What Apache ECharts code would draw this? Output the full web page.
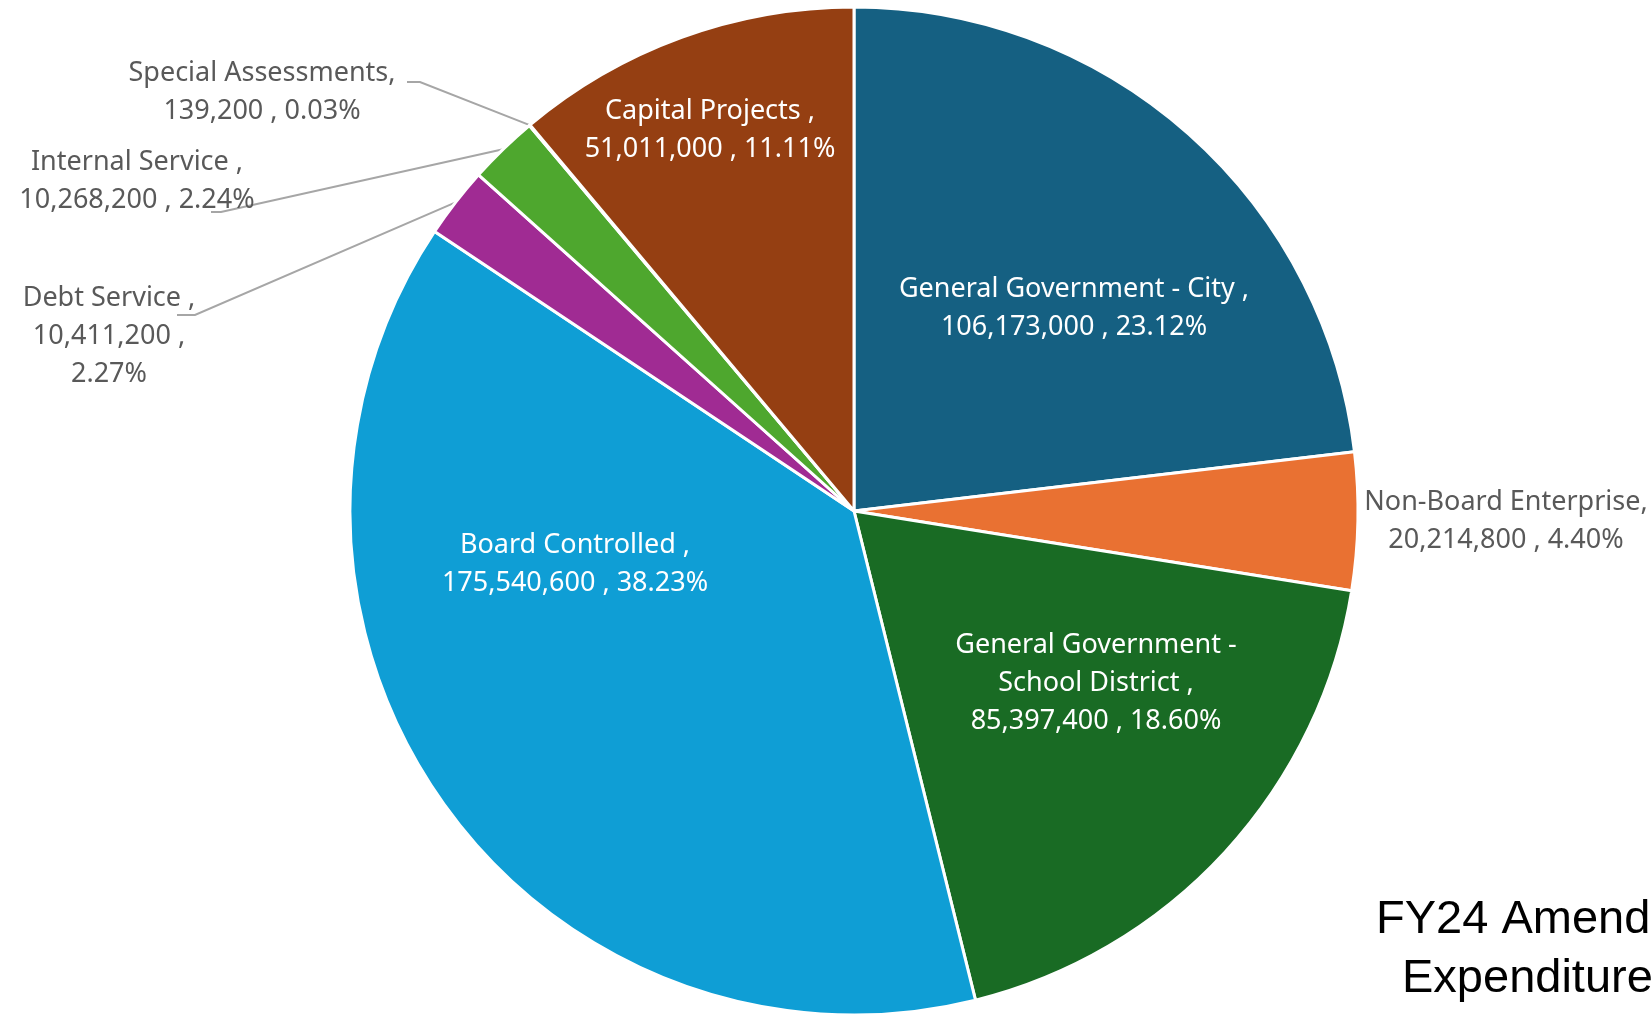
<!DOCTYPE html>
<html><head><meta charset="utf-8">
<script src="https://cdn.jsdelivr.net/npm/echarts@6/dist/echarts.min.js"></script>
<style>html,body{margin:0;padding:0;background:#fff;overflow:hidden}#c{width:1652px;height:1015px}</style>
</head><body><div id="c"></div>
<script>
// ---- data ----
const categories = ['General Government - City','Non-Board Enterprise','General Government - School District','Board Controlled','Debt Service','Internal Service','Special Assessments','Capital Projects'];
const values = [106173000,20214800,85397400,175540600,10411200,10268200,139200,51011000];
// label name lines as printed (with wrapping) and separator before percentage
const labelNames = ['General Government - City ,','Non-Board Enterprise,','General Government -\nSchool District ,','Board Controlled ,','Debt Service ,','Internal Service ,','Special Assessments,','Capital Projects ,'];
const pctSeps = [' , ',' , ',' , ',' , ',' ,\n',' , ',' , ',' , '];
const titleLines = ['FY24 Amended','Expenditures'];

// ---- style / layout ----
const colors = ['#156082','#E97132','#196B24','#0F9ED5','#A02B93','#4EA72E','#0B3A50','#953F12'];
const CENTER = [854, 511], RADIUS = 504;
const labelPos = [
  {x:1074,y:308,inside:true},
  {x:1506,y:521},
  {x:1096,y:683,inside:true},
  {x:575,y:564,inside:true},
  {x:109,y:336,line:[[195,315],[177,315]]},
  {x:137,y:181,line:[[221,212],[211,212]]},
  {x:262,y:92,line:[[420,82],[407,82]]},
  {x:710,y:130,inside:true}
];

const total = values.reduce((a,b)=>a+b,0);
const fmt = v => v.toLocaleString('en-US');
const data = categories.map((n,i)=>{
  const L = labelPos[i];
  return {
    name:n, value:values[i],
    itemStyle:{color:colors[i]},
    label:{
      position: L.inside ? 'inside' : 'outside',
      color: L.inside ? '#ffffff' : '#595959',
      formatter: labelNames[i] + '\n' + fmt(values[i]) + pctSeps[i] + (values[i]/total*100).toFixed(2) + '%'
    },
    labelLine:{show: !!L.line}
  };
});

// mid-angle edge point (fallback)
function edgePoint(i){
  let cum = 0; for (let k=0;k<i;k++) cum += values[k];
  const mid = (cum + values[i]/2)/total;
  const a = (90 - mid*360) * Math.PI/180;
  return [CENTER[0] + RADIUS*Math.cos(a), CENTER[1] - RADIUS*Math.sin(a)];
}

const chart = echarts.init(document.getElementById('c'), null, {renderer:'canvas'});
chart.setOption({
  animation:false,
  backgroundColor:'#ffffff',
  series:[{
    type:'pie',
    center:CENTER, radius:RADIUS,
    startAngle:90, clockwise:true,
    avoidLabelOverlap:false,
    itemStyle:{borderColor:'#ffffff', borderWidth:3},
    label:{show:true, fontFamily:'Noto Sans', fontSize:27, lineHeight:38, align:'center'},
    labelLine:{lineStyle:{color:'#A6A6A6', width:2}, length:20, length2:10},
    labelLayout:function(p){
      const L = labelPos[p.dataIndex];
      const out = {x:L.x, y:L.y, align:'center', verticalAlign:'middle', hideOverlap:false, moveOverlap:null};
      if (L.line) {
        const p0 = (p.labelLinePoints && p.labelLinePoints[0]) ? p.labelLinePoints[0] : edgePoint(p.dataIndex);
        out.labelLinePoints = [p0, L.line[0], L.line[1]];
      }
      return out;
    },
    data:data
  }],
  graphic:[
    {type:'text', x:1376, y:920, style:{text:titleLines[0], font:'47px "Liberation Sans"', fill:'#000000', verticalAlign:'middle', align:'left'}},
    {type:'text', x:1402, y:979, style:{text:titleLines[1], font:'47px "Liberation Sans"', fill:'#000000', verticalAlign:'middle', align:'left'}}
  ]
});
</script></body></html>
